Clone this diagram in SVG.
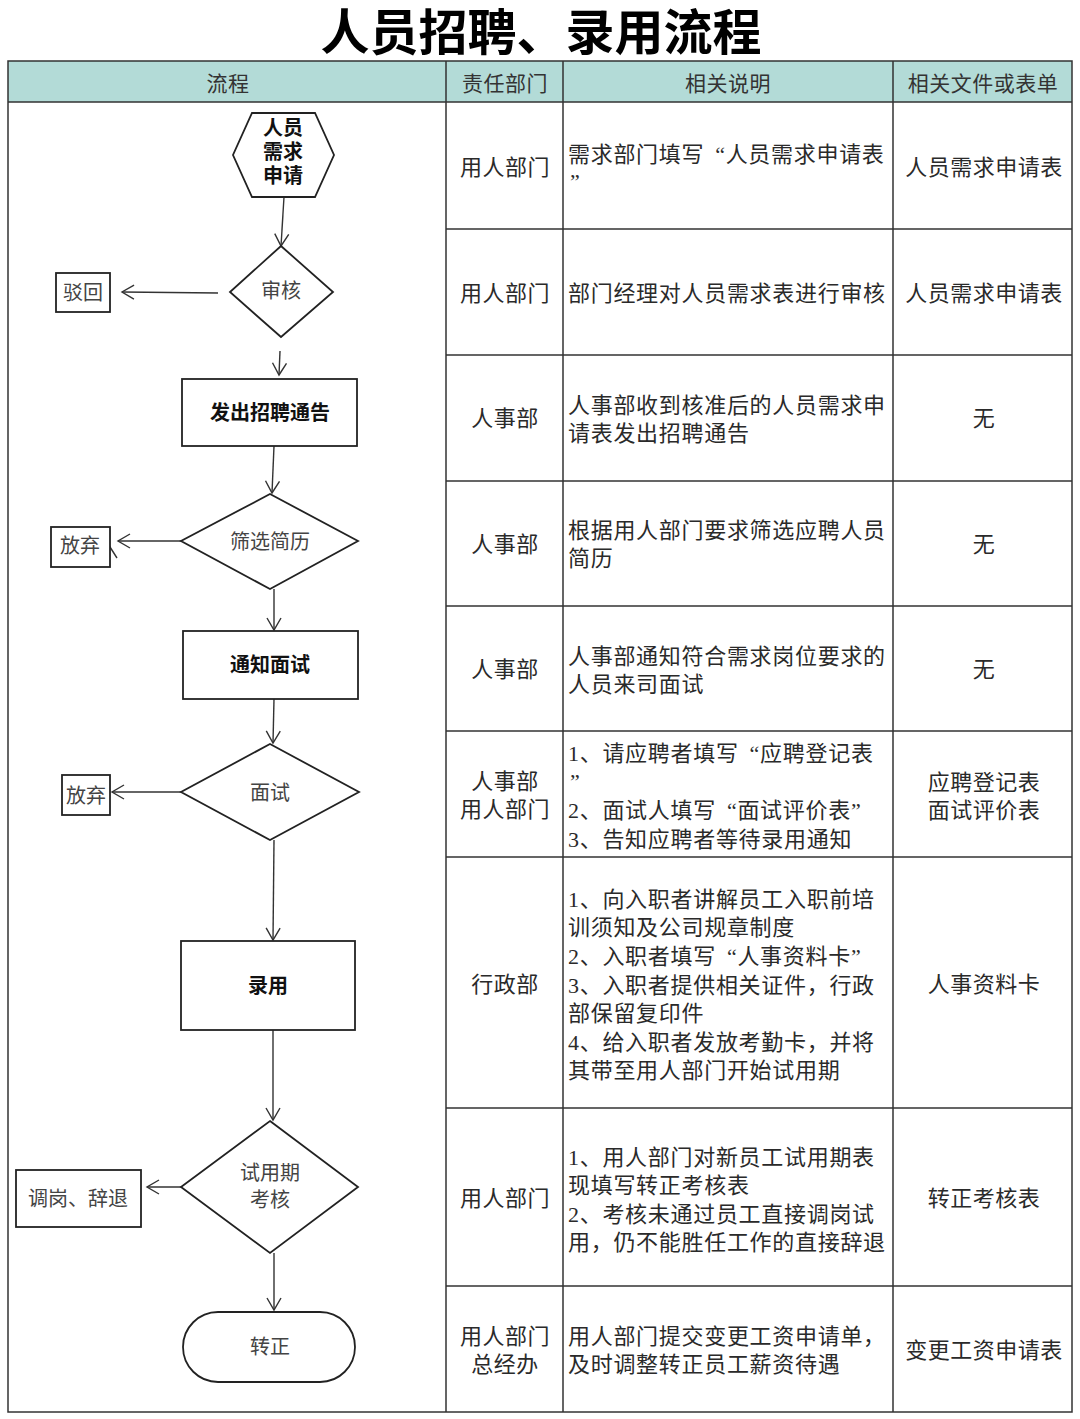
<svg xmlns="http://www.w3.org/2000/svg" width="1080" height="1419" viewBox="0 0 1080 1419">
<style>
.title{font-family:"Liberation Sans","Noto Sans CJK SC",sans-serif;font-size:49px;font-weight:bold;fill:#000;text-anchor:middle}
.hd{font-family:"Liberation Serif","Noto Sans CJK SC",serif;font-size:21px;fill:#333;text-anchor:middle;letter-spacing:0.5px}
.c{font-family:"Liberation Serif","Noto Sans CJK SC",serif;font-size:22px;fill:#2a2a2a;text-anchor:middle;letter-spacing:0.5px}
.d{font-family:"Liberation Serif","Noto Sans CJK SC",serif;font-size:22px;fill:#2a2a2a;letter-spacing:0.7px}
.grid{stroke:#333;stroke-width:1.5;fill:none}
.node{stroke:#222;stroke-width:1.8;fill:#fff}
.nb{font-family:"Liberation Sans","Noto Sans CJK SC",sans-serif;font-size:20px;font-weight:bold;fill:#111;text-anchor:middle}
.nl{font-family:"Liberation Serif","Noto Sans CJK SC",serif;font-size:20px;fill:#444;text-anchor:middle}
.conn{stroke:#333;stroke-width:1.4;fill:none}
</style>
<defs>
<marker id="arr" markerUnits="userSpaceOnUse" markerWidth="20" markerHeight="20" viewBox="0 0 20 20" refX="14" refY="10" orient="auto">
<path d="M2,3 L14,10 L2,17" fill="none" stroke="#333" stroke-width="1.4"/>
</marker>
</defs>
<rect width="1080" height="1419" fill="#fff"/>
<text class="title" x="541" y="50">人员招聘、录用流程</text>

<g id="table">
<rect x="8" y="61" width="1064" height="41" fill="#b3dbd7"/>
<rect class="grid" x="8" y="61" width="1064" height="1351"/>
<path class="grid" d="M446,61V1412M563,61V1412M893,61V1412M8,102H1072M446,229H1072M446,355H1072M446,481H1072M446,606H1072M446,731H1072M446,857H1072M446,1108H1072M446,1286H1072"/>
<text class="hd" x="228" y="91">流程</text>
<text class="hd" x="505" y="91">责任部门</text>
<text class="hd" x="728" y="91">相关说明</text>
<text class="hd" x="983" y="91">相关文件或表单</text>

<text class="c" x="505" y="175">用人部门</text>
<text class="d"><tspan x="568" y="162">需求部门填写<tspan dx="11">“</tspan>人员需求申请表</tspan><tspan x="570" y="189">”</tspan></text>
<text class="c" x="984" y="175">人员需求申请表</text>

<text class="c" x="505" y="301">用人部门</text>
<text class="d" x="568" y="301">部门经理对人员需求表进行审核</text>
<text class="c" x="984" y="301">人员需求申请表</text>

<text class="c" x="505" y="426">人事部</text>
<text class="d"><tspan x="568" y="413">人事部收到核准后的人员需求申</tspan><tspan x="568" y="441">请表发出招聘通告</tspan></text>
<text class="c" x="984" y="426">无</text>

<text class="c" x="505" y="552">人事部</text>
<text class="d"><tspan x="568" y="538">根据用人部门要求筛选应聘人员</tspan><tspan x="568" y="566">简历</tspan></text>
<text class="c" x="984" y="552">无</text>

<text class="c" x="505" y="677">人事部</text>
<text class="d"><tspan x="568" y="664">人事部通知符合需求岗位要求的</tspan><tspan x="568" y="692">人员来司面试</tspan></text>
<text class="c" x="984" y="677">无</text>

<text class="c"><tspan x="505" y="789">人事部</tspan><tspan x="505" y="817">用人部门</tspan></text>
<text class="d"><tspan x="568" y="761">1、请应聘者填写<tspan dx="11">“</tspan>应聘登记表</tspan><tspan x="570" y="789">”</tspan><tspan x="568" y="818">2、面试人填写<tspan dx="11">“</tspan>面试评价表”</tspan><tspan x="568" y="847">3、告知应聘者等待录用通知</tspan></text>
<text class="c"><tspan x="984" y="790">应聘登记表</tspan><tspan x="984" y="818">面试评价表</tspan></text>

<text class="c" x="505" y="992">行政部</text>
<text class="d"><tspan x="568" y="907">1、向入职者讲解员工入职前培</tspan><tspan x="568" y="935">训须知及公司规章制度</tspan><tspan x="568" y="964">2、入职者填写<tspan dx="11">“</tspan>人事资料卡”</tspan><tspan x="568" y="993">3、入职者提供相关证件，行政</tspan><tspan x="568" y="1021">部保留复印件</tspan><tspan x="568" y="1050">4、给入职者发放考勤卡，并将</tspan><tspan x="568" y="1078">其带至用人部门开始试用期</tspan></text>
<text class="c" x="984" y="992">人事资料卡</text>

<text class="c" x="505" y="1206">用人部门</text>
<text class="d"><tspan x="568" y="1165">1、用人部门对新员工试用期表</tspan><tspan x="568" y="1193">现填写转正考核表</tspan><tspan x="568" y="1222">2、考核未通过员工直接调岗试</tspan><tspan x="568" y="1250">用，仍不能胜任工作的直接辞退</tspan></text>
<text class="c" x="984" y="1206">转正考核表</text>

<text class="c"><tspan x="505" y="1344">用人部门</tspan><tspan x="505" y="1372">总经办</tspan></text>
<text class="d"><tspan x="568" y="1344">用人部门提交变更工资申请单，</tspan><tspan x="568" y="1372">及时调整转正员工薪资待遇</tspan></text>
<text class="c" x="984" y="1358">变更工资申请表</text>
</g>

<g id="connectors">
<path class="conn" d="M284,197 L281,246" marker-end="url(#arr)"/>
<path class="conn" d="M218,293 L122,292" marker-end="url(#arr)"/>
<path class="conn" d="M280,351 L279,375" marker-end="url(#arr)"/>
<path class="conn" d="M274,446 L272,493" marker-end="url(#arr)"/>
<path class="conn" d="M181,541 L118,541" marker-end="url(#arr)"/>
<path class="conn" d="M274,589 L274,630" marker-end="url(#arr)"/>
<path class="conn" d="M274,699 L273,743" marker-end="url(#arr)"/>
<path class="conn" d="M181,792 L112,792" marker-end="url(#arr)"/>
<path class="conn" d="M274,840 L273,940" marker-end="url(#arr)"/>
<path class="conn" d="M273,1030 L273,1120" marker-end="url(#arr)"/>
<path class="conn" d="M181,1187 L147,1187" marker-end="url(#arr)"/>
<path class="conn" d="M274,1253 L274,1310" marker-end="url(#arr)"/>
<path class="conn" d="M104,558 L110,547 L117,558"/>
</g>

<g id="n-start">
<polygon class="node" points="252,113 315,113 334,155 315,197 252,197 233,155"/>
<text class="nb" font-size="21"><tspan x="283" y="135">人员</tspan><tspan x="283" y="159">需求</tspan><tspan x="283" y="183">申请</tspan></text>
</g>
<g id="n-review">
<polygon class="node" points="281,246 333,292 281,337 230,292"/>
<text class="nl" x="281" y="298">审核</text>
</g>
<g id="n-reject">
<rect class="node" x="56" y="273" width="54" height="39"/>
<text class="nl" x="83" y="300">驳回</text>
</g>
<g id="n-notice">
<rect class="node" x="182" y="379" width="175" height="67"/>
<text class="nb" x="270" y="420">发出招聘通告</text>
</g>
<g id="n-screen">
<polygon class="node" points="270,494 358,541 270,589 181,541"/>
<text class="nl" x="270" y="549">筛选简历</text>
</g>
<g id="n-giveup1">
<rect class="node" x="51" y="527" width="59" height="40"/>
<text class="nl" x="80" y="553">放弃</text>
</g>
<g id="n-invite">
<rect class="node" x="183" y="631" width="175" height="68"/>
<text class="nb" x="270" y="672">通知面试</text>
</g>
<g id="n-interview">
<polygon class="node" points="270,744 359,792 270,840 181,792"/>
<text class="nl" x="270" y="800">面试</text>
</g>
<g id="n-giveup2">
<rect class="node" x="62" y="775" width="48" height="40"/>
<text class="nl" x="86" y="803">放弃</text>
</g>
<g id="n-hire">
<rect class="node" x="181" y="941" width="174" height="89"/>
<text class="nb" x="268" y="993">录用</text>
</g>
<g id="n-probation">
<polygon class="node" points="270,1121 358,1187 270,1253 181,1187"/>
<text class="nl"><tspan x="270" y="1180">试用期</tspan><tspan x="270" y="1207">考核</tspan></text>
</g>
<g id="n-transfer">
<rect class="node" x="16" y="1170" width="125" height="57"/>
<text class="nl" x="78" y="1206">调岗、辞退</text>
</g>
<g id="n-regular">
<rect class="node" x="183" y="1312" width="172" height="70" rx="35" ry="35"/>
<text class="nl" x="270" y="1354">转正</text>
</g>
</svg>
